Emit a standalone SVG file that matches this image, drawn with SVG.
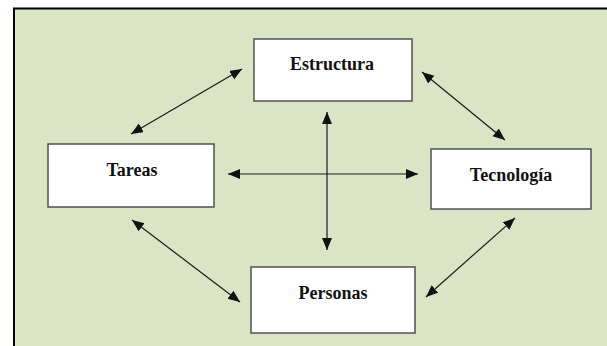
<svg xmlns="http://www.w3.org/2000/svg" width="607" height="346" viewBox="0 0 607 346">
<style>
.box{fill:#ffffff;stroke:#505050;stroke-width:1.5}
.lbl{font-family:"Liberation Serif","Times New Roman",serif;font-weight:bold;font-size:18px;fill:#111;text-anchor:middle}
.con{stroke:#1a1a1a;stroke-width:1.2;fill:none;marker-start:url(#ah);marker-end:url(#ah)}
</style>
<defs>
<marker id="ah" markerUnits="userSpaceOnUse" markerWidth="13" markerHeight="11" refX="12" refY="5" orient="auto-start-reverse">
<path d="M0,0 L12,5 L0,10 z" fill="#111"/>
</marker>
</defs>
<rect x="0" y="0" width="607" height="346" fill="#ffffff"/>
<rect x="14" y="8.5" width="700" height="400" fill="#dce4c6" stroke="#000" stroke-width="2"/>
<g id="connectors">
<line class="con" x1="131" y1="134" x2="242" y2="69"/>
<line class="con" x1="422" y1="72" x2="505" y2="140"/>
<line class="con" x1="327" y1="112" x2="327" y2="250"/>
<line class="con" x1="228" y1="174" x2="418" y2="174"/>
<line class="con" x1="132" y1="220" x2="240" y2="302"/>
<line class="con" x1="515" y1="218" x2="426" y2="297"/>
</g>
<g id="estructura">
<rect class="box" x="254" y="39" width="158" height="62"/>
<text class="lbl" x="332" y="70">Estructura</text>
</g>
<g id="tareas">
<rect class="box" x="48" y="144" width="166" height="63"/>
<text class="lbl" x="132" y="176">Tareas</text>
</g>
<g id="tecnologia">
<rect class="box" x="431" y="149" width="160" height="60"/>
<text class="lbl" x="511" y="181">Tecnología</text>
</g>
<g id="personas">
<rect class="box" x="251" y="267" width="164" height="66"/>
<text class="lbl" x="333" y="299">Personas</text>
</g>
</svg>
